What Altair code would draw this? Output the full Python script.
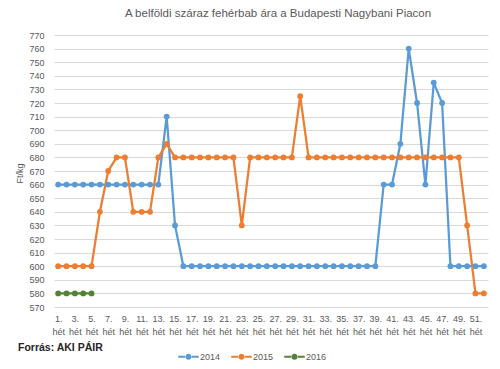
import altair as alt
import pandas as pd

weeks = list(range(1, 53))
y2014 = [660]*13 + [710, 630] + [600]*24 + [660, 660, 690, 760, 720, 660, 735, 720] + [600]*5
y2015 = [600]*5 + [640, 670, 680, 680, 640, 640, 640, 680, 690] + [680]*8 + [630] + [680]*6 + [725] + [680]*19 + [630, 580, 580]
y2016 = [580]*5
series = ["2014", "2015", "2016"]
colors = ["#5B9BD5", "#ED7D31", "#548235"]
y_ticks = list(range(570, 771, 10))
x_ticks = list(range(1, 52, 2))
title = "A belföldi száraz fehérbab ára a Budapesti Nagybani Piacon"
source = "Forrás: AKI PÁIR"

rows = []
for s, vals in zip(series, [y2014, y2015, y2016]):
    for w, v in zip(weeks, vals):
        rows.append({"week": w, "price": v, "year": s})
df = pd.DataFrame(rows)

sym = ("M-1,-0.1 L-0.25,-0.1 L-0.25,0.1 L-1,0.1 Z "
       "M0.25,-0.1 L1,-0.1 L1,0.1 L0.25,0.1 Z "
       "M-0.3,0 A0.3,0.3 0 1,0 0.3,0 A0.3,0.3 0 1,0 -0.3,0 Z")

base = alt.Chart(df).encode(
    x=alt.X("week:Q", scale=alt.Scale(domain=[0.5, 52.5], nice=False, zero=False),
            axis=alt.Axis(values=x_ticks, title=None, grid=False, ticks=False, domain=False,
                          labelExpr="[datum.value + '.', 'hét']", labelFontSize=9,
                          labelColor="#595959", labelPadding=7, labelLineHeight=13,
                          labelAngle=0, labelOverlap=False, labelFont="Liberation Sans")),
    y=alt.Y("price:Q", scale=alt.Scale(domain=[570, 770], nice=False, zero=False),
            axis=alt.Axis(values=y_ticks, title="Ft/kg", grid=True, gridColor="#D9D9D9",
                          ticks=False, domain=False, labelFontSize=9, labelColor="#595959",
                          labelPadding=10, labelFont="Liberation Sans",
                          titleFontSize=9, titleFontWeight="normal", titleColor="#595959",
                          titleX=-30, titleY=138, titleFont="Liberation Sans")),
    color=alt.Color("year:N", scale=alt.Scale(domain=series, range=colors),
                    legend=alt.Legend(title=None, orient="none", legendX=124, legendY=311,
                                      direction="horizontal", symbolType=sym, symbolSize=420,
                                      symbolStrokeWidth=0, labelFontSize=9, labelColor="#595959",
                                      labelOffset=1, columnPadding=10,
                                      labelFont="Liberation Sans")),
)

lines = base.mark_line(strokeWidth=2.25)
points = base.mark_point(filled=True, size=34, opacity=1)

src = alt.Chart(pd.DataFrame({"t": [source]})).mark_text(
    align="left", baseline="middle", fontSize=10.5, fontWeight="bold", color="#262626",
    font="Liberation Sans"
).encode(x=alt.value(-36), y=alt.value(313), text="t:N")

chart = alt.layer(lines, points, src).properties(
    width=434, height=272,
    title=alt.TitleParams(title, fontSize=11.5, fontWeight="normal", color="#595959",
                          anchor="middle", offset=12, dx=7, font="Liberation Sans"),
    autosize=alt.AutoSizeParams(type="none"),
    padding={"left": 46, "top": 27, "right": 4, "bottom": 54},
).configure_view(stroke=None)

chart.save("out.html", embed_options={"renderer": "svg", "actions": False})
